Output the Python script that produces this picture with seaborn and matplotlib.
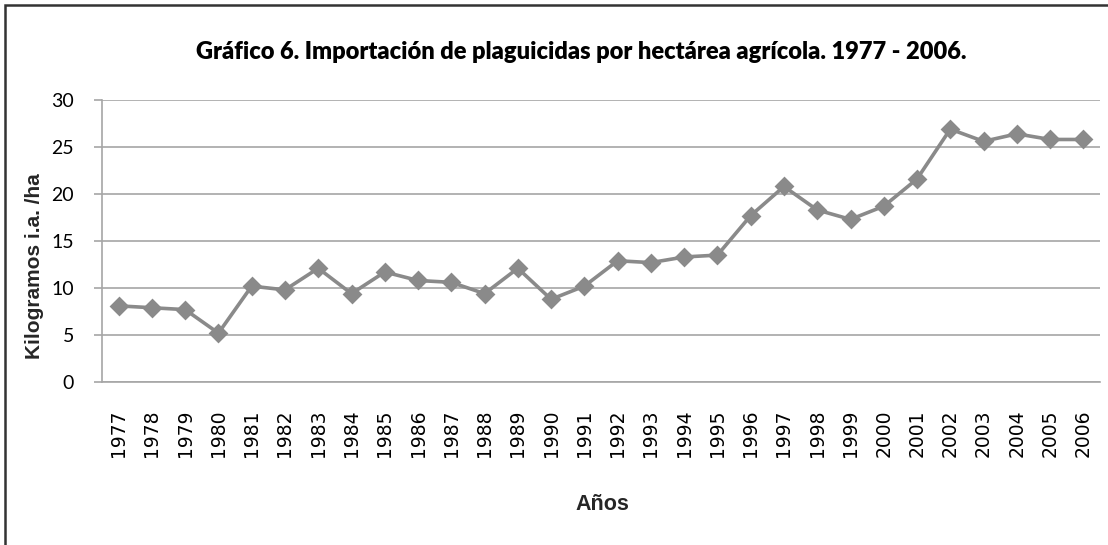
import numpy as np
import pandas as pd
import seaborn as sns
import matplotlib.pyplot as plt
from matplotlib.patches import Rectangle
from matplotlib.ticker import MultipleLocator

# ------------------------------
# Data
# ------------------------------
years = [str(y) for y in range(1977, 2007)]
kg_per_ha = [8.1, 7.9, 7.7, 5.2, 10.2, 9.8, 12.1, 9.4, 11.7, 10.8,
             10.6, 9.4, 12.1, 8.8, 10.2, 12.9, 12.7, 13.3, 13.5, 17.7,
             20.8, 18.3, 17.3, 18.7, 21.6, 26.9, 25.6, 26.4, 25.8, 25.8]

title = "Gráfico 6. Importación de plaguicidas por hectárea agrícola. 1977 - 2006."
xlabel = "Años"
ylabel = "Kilogramos i.a. /ha"

df = pd.DataFrame({"anio": years, "kg": kg_per_ha})

# ------------------------------
# Figure
# ------------------------------
sns.set_style("white")
W, H = 1108, 545
fig = plt.figure(figsize=(W / 100, H / 100), dpi=100)
ax = fig.add_axes([102 / W, 1 - 382 / H, 998 / W, 282 / H])

line_col = "#8a8a8a"
grid_col = "#a6a6a6"

sns.pointplot(data=df, x="anio", y="kg", color=line_col, markers="D",
              linewidth=2.6, markersize=8, ax=ax)

ax.set_xlim(-0.5, len(years) - 0.5)
ax.set_ylim(0, 30)
ax.yaxis.set_major_locator(MultipleLocator(5))
ax.grid(axis="y", color=grid_col, linewidth=1.2)
ax.set_axisbelow(True)

for s in ["top", "right"]:
    ax.spines[s].set_visible(False)
for s in ["left", "bottom"]:
    ax.spines[s].set_color(grid_col)
    ax.spines[s].set_linewidth(1.2)

# category boundary ticks on x, labels centred
ax.set_xticks(np.arange(len(years)))
ax.set_xticklabels(years, rotation=90, fontsize=13.5, family="DejaVu Sans",
                   color="black")
ax.set_xticks(np.arange(len(years) + 1) - 0.5, minor=True)
ax.tick_params(axis="x", which="major", length=0, pad=20)
ax.tick_params(axis="x", which="minor", length=6, width=1.2, color=grid_col)
ax.tick_params(axis="y", length=6, width=1.2, color=grid_col, pad=14,
               labelsize=14, labelcolor="black", left=True)
for t in ax.get_yticklabels():
    t.set_family("Lato")

ax.set_xlabel("")
ax.set_ylabel("")

fig.text(581 / W, 1 - 52 / H, title, ha="center", va="center",
         fontsize=17, fontweight="heavy", family="Lato", color="black")
fig.text(602 / W, 1 - 505 / H, xlabel, ha="center", va="center",
         fontsize=15.5, fontweight="bold", family="Liberation Sans")
fig.text(35 / W, 1 - 266 / H, ylabel, ha="center", va="center", rotation=90,
         fontsize=15, fontweight="bold", family="Liberation Sans")

# outer chart border (right/bottom edges cropped in the original)
fig.patches.append(Rectangle((5 / W, -0.1), 1.2, 1.1 - 5 / H,
                             transform=fig.transFigure, fill=False,
                             edgecolor="#333333", linewidth=1.8))

fig.savefig("out.png", dpi=100)
